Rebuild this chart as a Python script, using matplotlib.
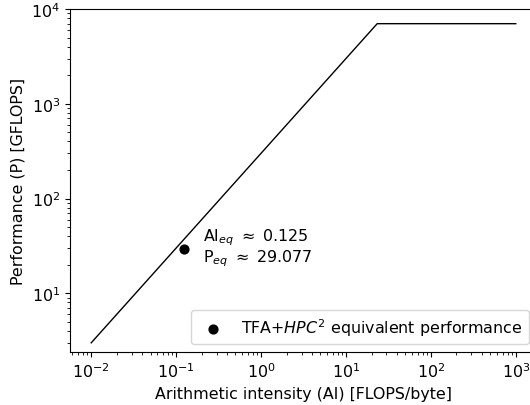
import numpy as np
import matplotlib.pyplot as plt

# roofline: bandwidth-bound then compute-bound
ai_roof = [0.01, 23.33, 1000]
perf_roof = [3.0, 7000.0, 7000.0]

ai_eq = [0.125]
perf_eq = [29.077]

fig = plt.figure(figsize=(5.3, 4.06), dpi=100)
ax = fig.add_axes([70/530, 53/406, 467/530, 343/406])

ax.plot(ai_roof, perf_roof, color='black', linewidth=1)
ax.scatter(ai_eq, perf_eq, color='black', s=40, zorder=3,
           label="TFA+$HPC^2$ equivalent performance")
ax.set_xscale('log')
ax.set_yscale('log')
ax.set_xlim(10**-2.25, 10**3.25)
ax.set_ylim(2.4, 1e4)

ax.text(0.21, 40, "AI$_{eq}$ $\\approx$ 0.125", fontsize=11.4, va='center')
ax.text(0.21, 23.5, "P$_{eq}$ $\\approx$ 29.077", fontsize=11.4, va='center')

ax.set_xlabel("Arithmetic intensity (AI) [FLOPS/byte]", fontsize=11.4)
ax.set_ylabel("Performance (P) [GFLOPS]", fontsize=11.4)
ax.tick_params(labelsize=11.4)
ax.legend(loc='lower right', fontsize=11.4)

fig.savefig("out.png", dpi=100)
